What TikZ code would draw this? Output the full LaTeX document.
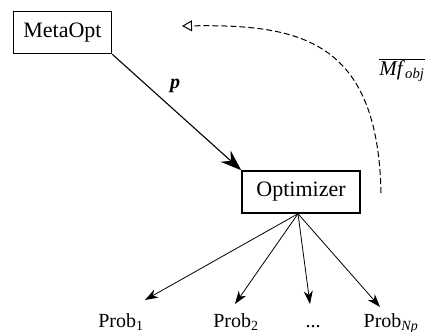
\documentclass[tikz,border=0pt]{standalone}
\usepackage{fontspec}
\setmainfont{Liberation Serif}
\usetikzlibrary{arrows.meta,calc}
\begin{document}
\begin{tikzpicture}[x=1pt,y=-1pt,
  font=\fontsize{20}{24}\selectfont,
  box/.style={draw,line width=1.5pt,minimum height=42pt,inner sep=0pt,font=\fontsize{22}{26}\selectfont},
  lbl/.style={inner sep=0pt,anchor=base},
  big/.style={line width=1.1pt,-{Stealth[length=21pt,width=15pt,inset=7pt]}},
  small/.style={line width=0.8pt,-{Stealth[length=13pt,width=9pt,inset=4pt]}},
  fb/.style={line width=1pt,dash pattern=on 6pt off 3pt,-{Triangle[open,length=10pt,width=11pt,line width=1pt]}}]
\useasboundingbox (0,0) rectangle (432,332);
\node[box,minimum width=98pt] (meta) at (62.5,32.5) {MetaOpt};
\node[box,minimum width=118pt] (opt) at (301,192) {Optimizer};
\draw[big] (meta.south east) -- (opt.north west);
\node (pl) at (175,86) {\textbf{\textit{p}}};
% feedback loop
\coordinate (fbstart) at (381,193);
\coordinate (fbend) at (182,26);
\draw[fb] (fbstart) .. controls (378,40) and (300,24) .. (fbend);
\node (mf) at (402,70) {\fontsize{21}{24}\selectfont$\overline{\hbox{\textit{Mf}\textsubscript{\textit{obj}}}}$};
% problem instances
\node[lbl] (p1) at (121,327) {Prob\textsubscript{1}};
\node[lbl] (p2) at (236,327) {Prob\textsubscript{2}};
\node[lbl] (p3) at (313,327) {...};
\node[lbl] (p4) at (391,327) {Prob\textsubscript{\textit{Np}}};
\coordinate (src) at ($(opt.south)+(-3,0)$);
\draw[small] (src) -- ($(p1.base)+(24,-27)$);
\draw[small] (src) -- ($(p2.base)+(-1,-23)$);
\draw[small] (src) -- ($(p3.base)+(-3,-23)$);
\draw[small] (src) -- ($(p4.base)+(-11,-20)$);
\end{tikzpicture}
\end{document}
